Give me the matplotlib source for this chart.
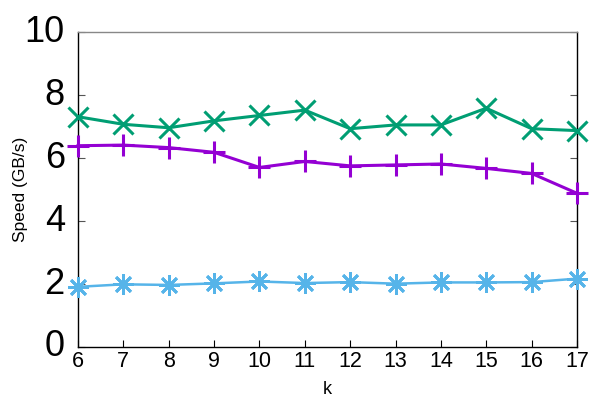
import matplotlib
matplotlib.use("Agg")
import matplotlib.pyplot as plt

# data
k = [6, 7, 8, 9, 10, 11, 12, 13, 14, 15, 16, 17]
speed_green = [7.31, 7.07, 6.96, 7.18, 7.35, 7.52, 6.93, 7.05, 7.05, 7.58, 6.93, 6.87]
speed_purple = [6.39, 6.41, 6.33, 6.18, 5.70, 5.89, 5.75, 5.78, 5.81, 5.67, 5.51, 4.88]
speed_blue = [1.91, 1.99, 1.97, 2.02, 2.08, 2.03, 2.06, 2.01, 2.05, 2.05, 2.06, 2.17]
y_ticks = [0, 2, 4, 6, 8, 10]

plt.rcParams['font.family'] = ['Liberation Sans', 'DejaVu Sans']

fig = plt.figure(figsize=(5.92, 3.97), dpi=100)
ax = fig.add_axes([78 / 592, 1 - 347 / 397, (577 - 78) / 592, (347 - 32) / 397])

ax.plot(k, speed_green, color='#009e73', lw=2.2, marker='x', ms=14, mew=2.2, clip_on=False, zorder=3)
ax.plot(k, speed_purple, color='#9400d3', lw=2.2, marker='+', ms=16, mew=2.2, clip_on=False, zorder=3)
ax.plot(k, speed_blue, color='#56b4e9', lw=1.8, marker=(8, 2, 0), ms=15, mew=2.0, clip_on=False, zorder=3)

ax.set_xlim(6, 17)
ax.set_ylim(0, 10)
ax.set_xticks(k)
ax.set_yticks(y_ticks)
ax.tick_params(axis='y', direction='in', labelsize=26, length=5, right=True, pad=9.5, color='#555555')
ax.tick_params(axis='x', direction='in', labelsize=15.5, length=5, pad=3)
for lbl in ax.get_yticklabels():
    lbl.set_verticalalignment('center')

for s in ax.spines.values():
    s.set_linewidth(1.0)
ax.spines['top'].set_color('#888888')

ax.set_xlabel('k', fontsize=13, labelpad=6)
ax.set_ylabel('Speed (GB/s)', fontsize=12.5)
ax.yaxis.set_label_coords(-0.1, 0.5)

fig.savefig('out.png', dpi=100)
